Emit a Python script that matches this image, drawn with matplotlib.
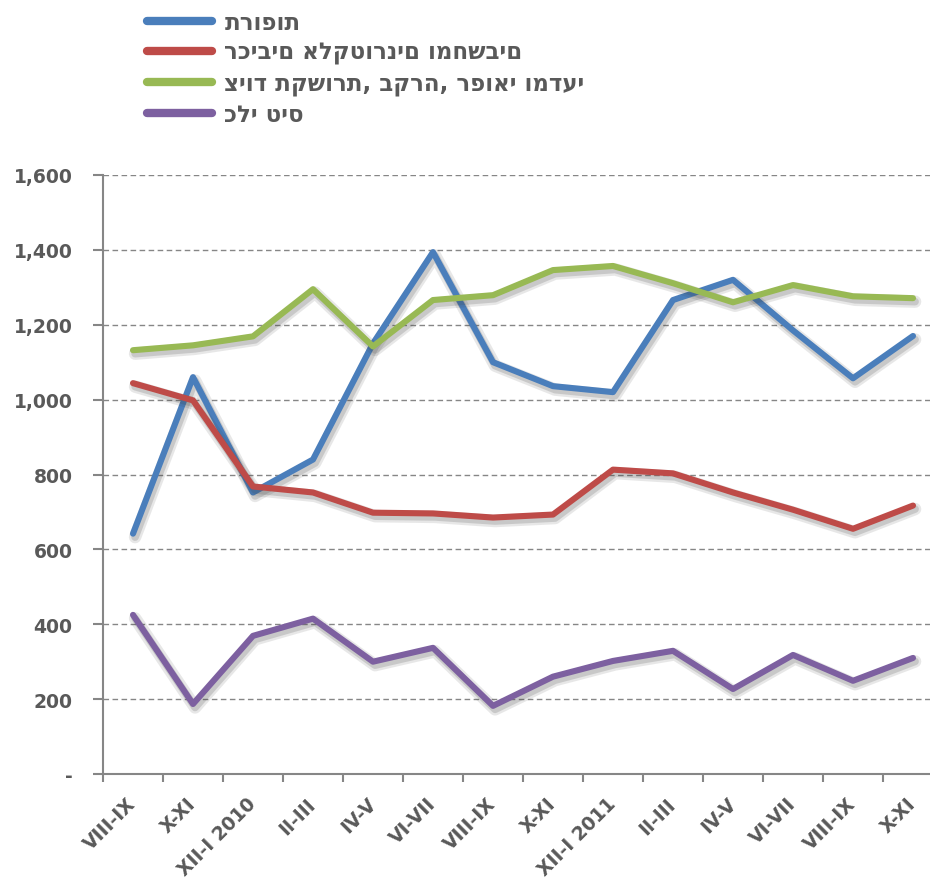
import matplotlib.pyplot as plt
import matplotlib.patheffects as pe
from matplotlib.lines import Line2D
from matplotlib.ticker import FuncFormatter

periods = ['VIII-IX', 'X-XI', 'XII-I 2010', 'II-III', 'IV-V', 'VI-VII', 'VIII-IX',
           'X-XI', 'XII-I 2011', 'II-III', 'IV-V', 'VI-VII', 'VIII-IX', 'X-XI']

series_names = ['תרופות', 'רכיבים אלקטורנים ומחשבים', 'ציוד תקשורת, בקרה, רפואי ומדעי', 'כלי טיס']
drugs = [642, 1060, 752, 840, 1150, 1394, 1100, 1036, 1020, 1266, 1320, 1185, 1057, 1170]
electronics = [1044, 998, 768, 752, 698, 696, 685, 693, 813, 803, 752, 706, 655, 717]
equipment = [1132, 1145, 1169, 1295, 1142, 1266, 1279, 1346, 1357, 1311, 1260, 1306, 1276, 1271]
aircraft = [425, 187, 369, 415, 300, 337, 182, 260, 302, 329, 227, 318, 249, 310]
colors = ['#4a7ebb', '#be4b48', '#98b954', '#7d60a0']

plt.rcParams['font.family'] = ['DejaVu Sans']
text_color = '#595959'
axis_color = '#868686'

fig = plt.figure(figsize=(9.3, 8.79), dpi=100)
ax = fig.add_axes([103 / 930, 1 - 775 / 879, 840 / 930, 599 / 879])

x = list(range(len(periods)))
shadow = [pe.SimpleLineShadow(offset=(1.5, -2.5), shadow_color='#404040', alpha=0.12, linewidth=9),
          pe.SimpleLineShadow(offset=(1.5, -2.5), shadow_color='#404040', alpha=0.18, linewidth=5.5),
          pe.Normal()]
for vals, c in zip([drugs, electronics, equipment, aircraft], colors):
    ax.plot(x, vals, color=c, lw=4.4, solid_capstyle='round', solid_joinstyle='round',
            path_effects=shadow, zorder=3)

ax.set_xlim(-0.5, len(periods) - 0.5)
ax.set_ylim(0, 1600)
ax.set_yticks(range(0, 1601, 200))
ax.yaxis.set_major_formatter(FuncFormatter(lambda v, p: '-' if v == 0 else f'{int(v):,}'))
ax.grid(axis='y', ls=(0, (4, 2.5)), color=axis_color, lw=1)
ax.set_axisbelow(True)

ax.set_xticks(x)
ax.set_xticklabels(periods, rotation=45, ha='right', va='center', rotation_mode='anchor')
ax.set_xticks([i - 0.5 for i in range(len(periods) + 1)], minor=True)
ax.tick_params(axis='x', which='major', length=0, pad=19)
ax.tick_params(axis='x', which='minor', length=6, color=axis_color, width=1.5)
ax.tick_params(axis='y', length=7, color=axis_color, width=1.5, pad=15)
for lab in ax.get_xticklabels() + ax.get_yticklabels():
    lab.set_fontweight('bold')
    lab.set_fontsize(13.5)
    lab.set_color(text_color)

for s in ['top', 'right']:
    ax.spines[s].set_visible(False)
for s in ['left', 'bottom']:
    ax.spines[s].set_color(axis_color)
    ax.spines[s].set_linewidth(1.5)

handles = [Line2D([], [], color=c, lw=6, solid_capstyle='round') for c in colors]
leg = fig.legend(handles, series_names, loc='upper left',
                 bbox_to_anchor=(142 / 930, 1 - 7 / 879), frameon=False,
                 borderaxespad=0, borderpad=0.2,
                 handlelength=2.85, handletextpad=0.55, labelspacing=0.32,
                 prop={'weight': 'bold', 'size': 16.5})
for t in leg.get_texts():
    t.set_color(text_color)

fig.savefig('out.png', dpi=100)
